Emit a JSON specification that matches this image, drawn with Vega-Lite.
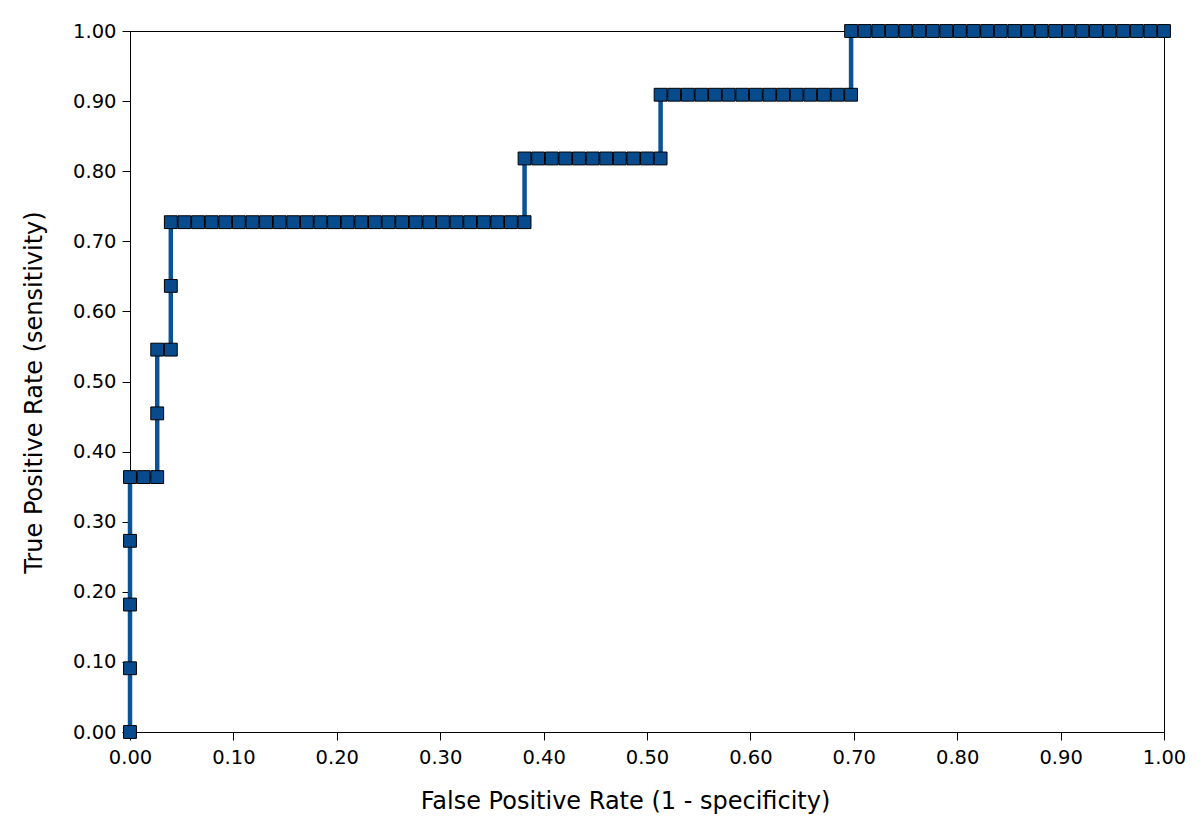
{
  "$schema": "https://vega.github.io/schema/vega-lite/v6.json",
  "width": 1034,
  "height": 701,
  "autosize": {"type": "none"},
  "padding": {"left": 130, "top": 31, "right": 36, "bottom": 101},
  "background": "white",
  "config": {
    "view": {"stroke": "black", "strokeWidth": 1},
    "font": "DejaVu Sans",
    "axis": {
      "grid": false,
      "domainColor": "black",
      "tickColor": "black",
      "tickSize": 8,
      "labelColor": "black",
      "labelFontSize": 19.5,
      "labelFont": "DejaVu Sans",
      "labelFlush": false,
      "titleFont": "DejaVu Sans",
      "titleFontSize": 24,
      "titleFontWeight": "normal",
      "titleColor": "black"
    }
  },
  "data": {
    "values": [
      {"i": 1, "fpr": 0, "tpr": 0},
      {"i": 2, "fpr": 0, "tpr": 0.090909},
      {"i": 3, "fpr": 0, "tpr": 0.181818},
      {"i": 4, "fpr": 0, "tpr": 0.272727},
      {"i": 5, "fpr": 0, "tpr": 0.363636},
      {"i": 6, "fpr": 0.013158, "tpr": 0.363636},
      {"i": 7, "fpr": 0.026316, "tpr": 0.363636},
      {"i": 8, "fpr": 0.026316, "tpr": 0.454545},
      {"i": 9, "fpr": 0.026316, "tpr": 0.545455},
      {"i": 10, "fpr": 0.039474, "tpr": 0.545455},
      {"i": 11, "fpr": 0.039474, "tpr": 0.636364},
      {"i": 12, "fpr": 0.039474, "tpr": 0.727273},
      {"i": 13, "fpr": 0.052632, "tpr": 0.727273},
      {"i": 14, "fpr": 0.065789, "tpr": 0.727273},
      {"i": 15, "fpr": 0.078947, "tpr": 0.727273},
      {"i": 16, "fpr": 0.092105, "tpr": 0.727273},
      {"i": 17, "fpr": 0.105263, "tpr": 0.727273},
      {"i": 18, "fpr": 0.118421, "tpr": 0.727273},
      {"i": 19, "fpr": 0.131579, "tpr": 0.727273},
      {"i": 20, "fpr": 0.144737, "tpr": 0.727273},
      {"i": 21, "fpr": 0.157895, "tpr": 0.727273},
      {"i": 22, "fpr": 0.171053, "tpr": 0.727273},
      {"i": 23, "fpr": 0.184211, "tpr": 0.727273},
      {"i": 24, "fpr": 0.197368, "tpr": 0.727273},
      {"i": 25, "fpr": 0.210526, "tpr": 0.727273},
      {"i": 26, "fpr": 0.223684, "tpr": 0.727273},
      {"i": 27, "fpr": 0.236842, "tpr": 0.727273},
      {"i": 28, "fpr": 0.25, "tpr": 0.727273},
      {"i": 29, "fpr": 0.263158, "tpr": 0.727273},
      {"i": 30, "fpr": 0.276316, "tpr": 0.727273},
      {"i": 31, "fpr": 0.289474, "tpr": 0.727273},
      {"i": 32, "fpr": 0.302632, "tpr": 0.727273},
      {"i": 33, "fpr": 0.315789, "tpr": 0.727273},
      {"i": 34, "fpr": 0.328947, "tpr": 0.727273},
      {"i": 35, "fpr": 0.342105, "tpr": 0.727273},
      {"i": 36, "fpr": 0.355263, "tpr": 0.727273},
      {"i": 37, "fpr": 0.368421, "tpr": 0.727273},
      {"i": 38, "fpr": 0.381579, "tpr": 0.727273},
      {"i": 39, "fpr": 0.381579, "tpr": 0.818182},
      {"i": 40, "fpr": 0.394737, "tpr": 0.818182},
      {"i": 41, "fpr": 0.407895, "tpr": 0.818182},
      {"i": 42, "fpr": 0.421053, "tpr": 0.818182},
      {"i": 43, "fpr": 0.434211, "tpr": 0.818182},
      {"i": 44, "fpr": 0.447368, "tpr": 0.818182},
      {"i": 45, "fpr": 0.460526, "tpr": 0.818182},
      {"i": 46, "fpr": 0.473684, "tpr": 0.818182},
      {"i": 47, "fpr": 0.486842, "tpr": 0.818182},
      {"i": 48, "fpr": 0.5, "tpr": 0.818182},
      {"i": 49, "fpr": 0.513158, "tpr": 0.818182},
      {"i": 50, "fpr": 0.513158, "tpr": 0.909091},
      {"i": 51, "fpr": 0.526316, "tpr": 0.909091},
      {"i": 52, "fpr": 0.539474, "tpr": 0.909091},
      {"i": 53, "fpr": 0.552632, "tpr": 0.909091},
      {"i": 54, "fpr": 0.565789, "tpr": 0.909091},
      {"i": 55, "fpr": 0.578947, "tpr": 0.909091},
      {"i": 56, "fpr": 0.592105, "tpr": 0.909091},
      {"i": 57, "fpr": 0.605263, "tpr": 0.909091},
      {"i": 58, "fpr": 0.618421, "tpr": 0.909091},
      {"i": 59, "fpr": 0.631579, "tpr": 0.909091},
      {"i": 60, "fpr": 0.644737, "tpr": 0.909091},
      {"i": 61, "fpr": 0.657895, "tpr": 0.909091},
      {"i": 62, "fpr": 0.671053, "tpr": 0.909091},
      {"i": 63, "fpr": 0.684211, "tpr": 0.909091},
      {"i": 64, "fpr": 0.697368, "tpr": 0.909091},
      {"i": 65, "fpr": 0.697368, "tpr": 1},
      {"i": 66, "fpr": 0.710526, "tpr": 1},
      {"i": 67, "fpr": 0.723684, "tpr": 1},
      {"i": 68, "fpr": 0.736842, "tpr": 1},
      {"i": 69, "fpr": 0.75, "tpr": 1},
      {"i": 70, "fpr": 0.763158, "tpr": 1},
      {"i": 71, "fpr": 0.776316, "tpr": 1},
      {"i": 72, "fpr": 0.789474, "tpr": 1},
      {"i": 73, "fpr": 0.802632, "tpr": 1},
      {"i": 74, "fpr": 0.815789, "tpr": 1},
      {"i": 75, "fpr": 0.828947, "tpr": 1},
      {"i": 76, "fpr": 0.842105, "tpr": 1},
      {"i": 77, "fpr": 0.855263, "tpr": 1},
      {"i": 78, "fpr": 0.868421, "tpr": 1},
      {"i": 79, "fpr": 0.881579, "tpr": 1},
      {"i": 80, "fpr": 0.894737, "tpr": 1},
      {"i": 81, "fpr": 0.907895, "tpr": 1},
      {"i": 82, "fpr": 0.921053, "tpr": 1},
      {"i": 83, "fpr": 0.934211, "tpr": 1},
      {"i": 84, "fpr": 0.947368, "tpr": 1},
      {"i": 85, "fpr": 0.960526, "tpr": 1},
      {"i": 86, "fpr": 0.973684, "tpr": 1},
      {"i": 87, "fpr": 0.986842, "tpr": 1},
      {"i": 88, "fpr": 1, "tpr": 1}
    ]
  },
  "encoding": {
    "x": {
      "field": "fpr",
      "type": "quantitative",
      "scale": {"domain": [0, 1], "nice": false, "zero": false},
      "axis": {
        "title": "False Positive Rate (1 - specificity)",
        "values": [0, 0.1, 0.2, 0.3, 0.4, 0.5, 0.6, 0.7, 0.8, 0.9, 1],
        "format": ".2f",
        "labelPadding": 8,
        "titlePadding": 23,
        "titleX": 495,
        "titleAlign": "center"
      }
    },
    "y": {
      "field": "tpr",
      "type": "quantitative",
      "scale": {"domain": [0, 1], "nice": false, "zero": false},
      "axis": {
        "title": "True Positive Rate (sensitivity)",
        "values": [0, 0.1, 0.2, 0.3, 0.4, 0.5, 0.6, 0.7, 0.8, 0.9, 1],
        "format": ".2f",
        "labelPadding": 6,
        "titlePadding": 26,
        "titleY": 361,
        "titleAlign": "center"
      }
    }
  },
  "layer": [
    {
      "mark": {"type": "line", "color": "#0b5394", "strokeWidth": 4.5, "clip": false},
      "encoding": {"order": {"field": "i", "type": "quantitative"}}
    },
    {
      "mark": {
        "type": "point",
        "shape": "square",
        "size": 165,
        "filled": true,
        "fill": "#084b8c",
        "stroke": "black",
        "strokeWidth": 1,
        "opacity": 1,
        "clip": false
      }
    }
  ]
}
